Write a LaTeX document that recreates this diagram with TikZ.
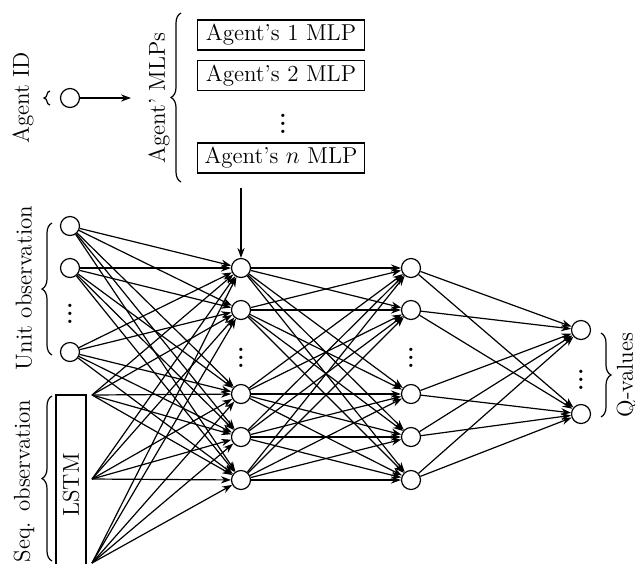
\documentclass[tikz,border=0pt]{standalone}
\usepackage{tikz}
\usetikzlibrary{arrows.meta,positioning,calc,decorations.pathreplacing}

\begin{document}
\begin{tikzpicture}[x=0.5pt, y=-0.5pt, font=\fontsize{11.5}{13}\selectfont,
  >={Stealth[length=5pt, width=3.6pt]},
  neuron/.style={circle, draw, semithick, fill=white, minimum size=9.5pt, inner sep=0pt},
  mlpbox/.style={draw, semithick, minimum width=83.5pt, minimum height=15pt, inner xsep=3pt, inner ysep=1pt},
  conn/.style={->, semithick},
  brace/.style={decorate, semithick, decoration={brace, amplitude=5pt}},
  sidelabel/.style={rotate=90},
  dots/.style={font=\fontsize{11.5}{13}\selectfont\bfseries}]
  \useasboundingbox (0,0) rectangle (635,563);
  \clip (0,0) rectangle (635,563);

  % agent id and the per-agent MLPs
  \node[neuron] (id) at (70,98) {};
  \node[sidelabel] (idlab) at (23,98) {Agent ID};
  \draw[brace, decoration={amplitude=3pt}] (50,105) -- (50,91);
  \coordinate (idend) at (131,98);
  \draw[conn] (id) -- (idend);
  \draw[brace] (181,182) -- (181,13);
  \node[sidelabel] (mlplab) at (159,98) {Agent' MLPs};
  \foreach \k/\yy/\txt in {1/35/1, 2/75.5/2, n/158/$n$}
    \node[mlpbox] (mlp\k) at (281,\yy) {Agent's \txt{} MLP};
  \node[dots] (mlpdots) at (283,118) {\vdots};

  % inputs
  \foreach \i/\yy in {1/226, 2/268, 3/352}
    \node[neuron] (in\i) at (70,\yy) {};
  \node[dots] (indots) at (70,308) {\vdots};
  \node[draw, semithick, sidelabel, minimum width=90pt, minimum height=13.5pt] (lstm) at (71,485) {LSTM};
  \foreach \i/\yy in {1/395, 2/479, 3/563}
    \coordinate (sq\i) at (92,\yy);
  \draw[brace] (52,355) -- (52,223);
  \node[sidelabel] (unitlab) at (24,288) {Unit observation};
  \draw[brace] (52,561) -- (52,396);
  \node[sidelabel] (seqlab) at (24,481) {Seq. observation};

  % hidden layers
  \foreach \i/\yy in {1/268, 2/310, 3/394, 4/437, 5/480}{
    \node[neuron] (ha\i) at (241,\yy) {};
    \node[neuron] (hb\i) at (411,\yy) {};}
  \node[dots] (hadots) at (241,352) {\vdots};
  \node[dots] (hbdots) at (411,352) {\vdots};

  % outputs
  \node[neuron] (out1) at (581,330) {};
  \node[neuron] (out2) at (581,414) {};
  \node[dots] (outdots) at (581,374) {\vdots};
  \draw[brace] (601,333) -- (601,417);
  \node[sidelabel] (qlab) at (627,375) {Q-values};

  % connections
  \draw[conn, shorten <=7pt] (mlpn.south -| ha1) -- (ha1);
  \foreach \s in {in1,in2,in3,sq1,sq2,sq3}
    \foreach \t in {1,...,5}
      \draw[conn] (\s) -- (ha\t);
  \foreach \s in {1,...,5}{
    \foreach \t in {1,...,5}
      \draw[conn] (ha\s) -- (hb\t);
    \draw[conn] (hb\s) -- (out1);
    \draw[conn] (hb\s) -- (out2);}
\end{tikzpicture}
\end{document}
